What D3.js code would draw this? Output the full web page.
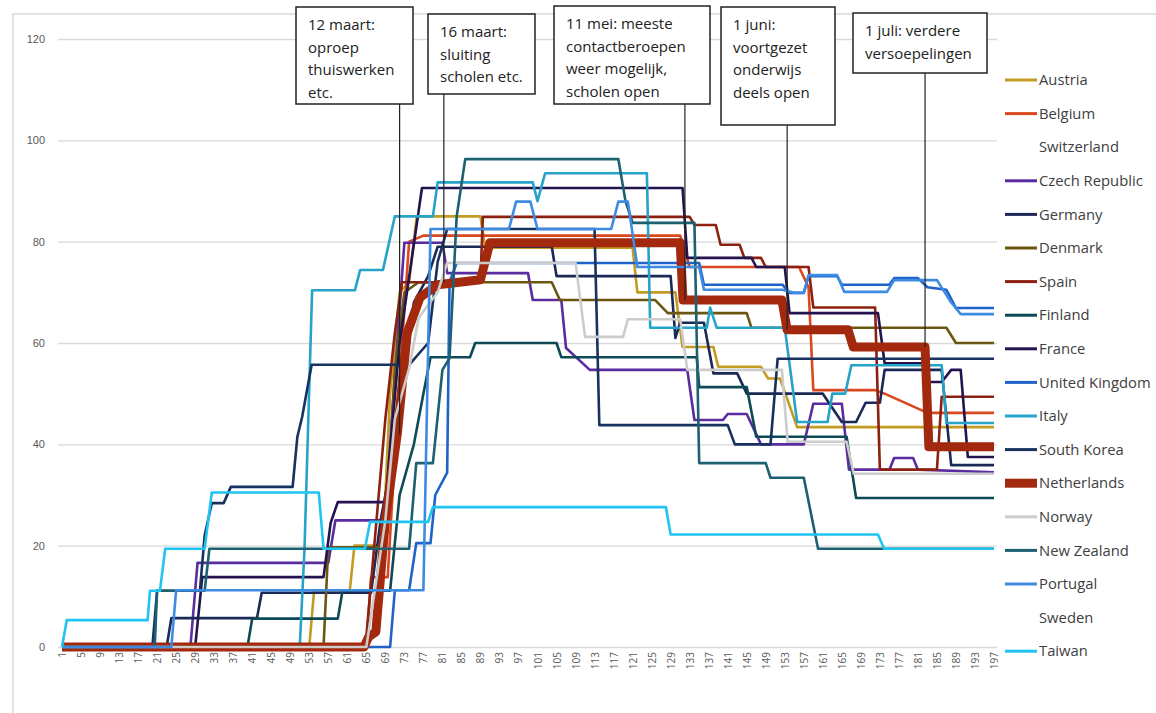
<!DOCTYPE html>
<html>
<head>
<meta charset="utf-8">
<script src="https://cdn.jsdelivr.net/npm/d3@7"></script>
<style>
  body { margin: 0; background: #fff; }
  svg { font-family: "Open Sans", "Noto Sans", sans-serif; }
</style>
</head>
<body>
<svg width="1156" height="713"></svg>
<script>
// change points per country: [day, stringency]
var austria = [[1,0],[53,0],[54,11],[61.5,11],[62.5,20],[68.5,20],[70,50],[72,70],[74,72],[75.6,85],[89,85],[90,78.8],[121,78.8],[122,70],[130,70],[131.5,59.2],[138,59.2],[139,55.3],[148,55.3],[149.5,53],[152,53],[155.6,43.4],[197,43.4]];
var belgium = [[1,0],[65,0],[66,13.8],[69.5,13.8],[71.5,46],[74,80],[77,81.2],[131,81.2],[133,75],[156,75],[158,71],[159,50.7],[172,50.7],[174,50],[183,46.2],[197,46.2]];
var switzerland = [];
var czech = [[1,0],[28,0],[29.5,16.6],[57,16.6],[58.5,25],[69,25],[70.5,47],[73,79.8],[81,79.8],[82,73.8],[99,73.8],[100,68.5],[106,68.5],[107,59],[112,54.7],[132.5,54.7],[134,44.8],[140,44.8],[141,46],[145,46],[148,40],[157,40],[159,48],[165,48],[166.5,35],[175,35],[176,37.3],[180,37.3],[181,35],[197,34.5]];
var germany = [[1,0],[23,0],[24,5.7],[42,5.7],[43,10.7],[66,10.7],[68,25],[72,45],[75,68],[78,73.2],[80,79],[104,79],[105,73.2],[129,73.2],[130,61],[131,64],[136,64],[138,54],[143,54],[145,50],[161,50],[165,44.4],[168,44.4],[170,48.2],[173,48.2],[174,54.7],[186,54.7],[188,35.9],[197,35.9]];
var denmark = [[1,0],[56,0],[57,19.7],[69,19.7],[71,55],[73,70],[76,72],[104,72],[105.7,68.5],[125.7,68.5],[128.4,65.9],[145,65.9],[146,63],[187,63],[189,60],[197,60]];
var spain = [[1,0],[64,0],[65,2],[69,45],[71,62],[72.5,72],[89,72],[89.5,84.9],[133,84.9],[134,83.3],[138.5,83.3],[139.5,79.4],[143.5,79.4],[144.5,76.8],[148,76.8],[149,75],[158,75],[159,67],[172,67],[173,35],[185,35],[186,49.4],[197,49.4]];
var finland = [[1,0],[40,0],[41,5.6],[59,5.6],[60,11.1],[70,11.1],[72,30],[75,40],[77,50],[78.5,57.2],[86.8,57.2],[87.9,60],[105,60],[106,57.2],[134.5,57.2],[135,51.3],[145,51.3],[147,41.5],[166,41.5],[168,29.4],[197,29.4]];
var france = [[1,0],[29,0],[30.5,13.8],[56,13.8],[57.5,24.5],[59,28.6],[69,28.6],[72,60],[76.7,90.6],[131.5,90.6],[132.5,76.8],[146,76.8],[147,75],[153,75],[154,65.9],[172.6,65.9],[174,56],[182,56],[183,52.3],[186,52.3],[188,54.7],[190,54.7],[191.5,37.5],[197,37.5]];
var uk = [[1,0],[70,0],[71,11.2],[74,11.2],[75.5,20.5],[78.5,20.5],[79.5,30],[82,34.4],[82.5,72],[84,75.8],[135,75.8],[136,71.5],[152.5,71.5],[154,69.9],[157,69.9],[158,73.2],[164,73.2],[165,71.5],[175,71.5],[176,72.8],[181,72.8],[183,71],[187,70.5],[189,66.9],[197,66.9]];
var italy = [[1,0],[51,0],[52,19.4],[53.6,70.4],[62.6,70.4],[63.7,74.4],[68.5,74.4],[71,85],[79,85],[80,91.7],[100,91.7],[101,88],[102.6,93.5],[124,93.5],[124.7,63],[136.6,63],[137.3,67],[138.7,63],[153,63],[155.6,44.4],[162,44.4],[163,50],[165.7,50],[167,55.6],[186,55.6],[187,44.2],[197,44.2]];
var southKorea = [[1,0],[20,0],[21,11.1],[30,11.1],[31,22],[32.5,28.4],[35,28.4],[36.5,31.6],[49.5,31.6],[50.5,41.5],[51.5,45.4],[53.5,55.7],[74,55.7],[78,60],[80,76],[82,82.5],[113,82.5],[114,43.8],[141,43.8],[142.5,40],[150,40],[151.5,56.9],[197,56.9]];
var netherlands = [[1,0],[64.5,0],[65.5,2],[67,3],[69,25],[71.5,42],[73.6,62],[76.3,69],[80,71.5],[89,72.5],[91,79.8],[131,79.8],[131.6,68.5],[152.4,68.5],[153.5,62.6],[166.3,62.6],[167.4,59.2],[182.5,59.2],[183.3,39.5],[197,39.5]];
var norway = [[1,0],[65,0],[69,25],[71,45],[74,55],[76,65],[80,70],[82,75.8],[109,75.8],[111,61.2],[119,61.2],[120,64.7],[131,64.7],[132.5,54.7],[152.4,54.7],[153.6,40.5],[166,40.5],[167.5,34.2],[197,34.2]];
var newZealand = [[1,0],[20.5,0],[21,11.1],[31,11.1],[32,19.4],[74,19.4],[75.5,36.3],[79,36.3],[81,54.7],[82.5,57],[84,85],[85.8,96.3],[118,96.3],[119.5,88],[121,83.7],[134,83.7],[135,36.3],[149,36.3],[150,33.4],[157,33.4],[160,19.4],[197,19.4]];
var portugal = [[1,0],[24,0],[25,11.2],[77,11.2],[78.5,82.5],[95,82.5],[96.5,87.9],[99.5,87.9],[101,82.5],[116.5,82.5],[118,87.9],[120,87.9],[122,75],[135,75],[136,70.5],[152.5,70.5],[155,69.9],[157,69.9],[158,73.4],[164,73.4],[165.5,70.1],[174.5,70.1],[176,72.4],[185,72.4],[188,68],[190,65.7],[197,65.7]];
var sweden = [];
var taiwan = [[1,0],[2,5.3],[19,5.3],[19.5,11.1],[21.6,11.1],[22.7,19.4],[31,19.4],[32.5,30.5],[55,30.5],[56,19.4],[64.7,19.4],[65.8,24.7],[78,24.7],[79,27.6],[128,27.6],[129,22.2],[172.6,22.2],[173.9,19.4],[197,19.4]];

var countries = ["Austria","Belgium","Switzerland","Czech Republic","Germany","Denmark","Spain","Finland","France","United Kingdom","Italy","South Korea","Netherlands","Norway","New Zealand","Portugal","Sweden","Taiwan"];
var seriesData = [austria, belgium, switzerland, czech, germany, denmark, spain, finland, france, uk, italy, southKorea, netherlands, norway, newZealand, portugal, sweden, taiwan];
var colors = ["#c49b22","#d9481f","none","#5b2c9f","#1b2956","#6b5712","#8c2010","#0d4a55","#23134f","#1f63c8","#25a3c9","#17325f","#a2290d","#cccccc","#1d6070","#3d8be2","none","#1fc4f2"];

var yTicks = [0, 20, 40, 60, 80, 100, 120];
var xTicks = d3.range(1, 198, 4);

// annotations: day, NL value where the pointer ends, text lines
var annDays = [72, 81.3, 132, 153.5, 182.5];
var annEnds = [42, 72, 68.5, 62.6, 59.2];
var annTexts = [
  ["12 maart:", "oproep", "thuiswerken", "etc."],
  ["16 maart:", "sluiting", "scholen etc."],
  ["11 mei: meeste", "contactberoepen", "weer mogelijk,", "scholen open"],
  ["1 juni:", "voortgezet", "onderwijs", "deels open"],
  ["1 juli: verdere", "versoepelingen"]
];
var annBoxes = [[296, 7, 117, 97], [428, 14, 107, 80], [554, 6, 156, 98], [721, 7, 114, 118], [853, 13, 134, 60]];

var svg = d3.select("svg");

// chart frame
svg.append("path").attr("d", "M13,713 V14 H1156").attr("fill", "none").attr("stroke", "#d9d9d9").attr("stroke-width", 1.5);

var x = d3.scaleLinear().domain([1, 197]).range([62, 994]);
var y = d3.scaleLinear().domain([0, 120]).range([647, 39]);

svg.append("g")
    .attr("transform", "translate(58,0)")
    .call(d3.axisLeft(y).tickValues(yTicks).tickSize(-939).tickPadding(13))
    .call(function (g) {
        g.select(".domain").remove();
        g.selectAll(".tick line").attr("stroke", "#d9d9d9").attr("stroke-width", 1.3);
        g.selectAll(".tick text").attr("fill", "#595959").style("font-size", "11px");
    });

svg.append("g")
    .selectAll("text")
    .data(xTicks)
    .enter().append("text")
    .attr("transform", function (d) { return "translate(" + (x(d) + 4) + ",652) rotate(-90)"; })
    .attr("text-anchor", "end")
    .attr("fill", "#595959")
    .style("font-size", "10px")
    .text(function (d) { return d; });

var line = d3.line()
    .x(function (d) { return x(d[0]); })
    .y(function (d) { return y(d[1]); });

svg.append("g")
    .selectAll("path")
    .data(seriesData)
    .enter().append("path")
    .attr("d", function (d) { return d.length ? line(d) : null; })
    .attr("fill", "none")
    .attr("stroke", function (d, i) { return colors[i]; })
    .attr("stroke-width", function (d, i) { return countries[i] === "Netherlands" ? 9 : 2.6; })
    .attr("stroke-linejoin", "round");

// annotations
var ann = svg.append("g").selectAll("g").data(annDays).enter().append("g");
ann.append("line")
    .attr("x1", function (d) { return x(d); })
    .attr("x2", function (d) { return x(d); })
    .attr("y1", function (d, i) { return annBoxes[i][1] + annBoxes[i][3]; })
    .attr("y2", function (d, i) { return y(annEnds[i]); })
    .attr("stroke", "#222").attr("stroke-width", 1.2);
ann.append("rect")
    .attr("x", function (d, i) { return annBoxes[i][0]; })
    .attr("y", function (d, i) { return annBoxes[i][1]; })
    .attr("width", function (d, i) { return annBoxes[i][2]; })
    .attr("height", function (d, i) { return annBoxes[i][3]; })
    .attr("fill", "#fff").attr("stroke", "#222").attr("stroke-width", 1.5);
ann.each(function (d, i) {
    var g = d3.select(this);
    annTexts[i].forEach(function (t, j) {
        g.append("text")
            .attr("x", annBoxes[i][0] + 12)
            .attr("y", annBoxes[i][1] + 23 + j * 22.5)
            .attr("fill", "#222")
            .style("font-size", "15px")
            .text(t);
    });
});

// legend
var leg = svg.append("g").selectAll("g").data(countries).enter().append("g")
    .attr("transform", function (d, i) { return "translate(1005," + (80 + i * 33.6) + ")"; });
leg.append("line")
    .attr("x1", 0).attr("x2", 32)
    .attr("stroke", function (d, i) { return colors[i]; })
    .attr("stroke-width", function (d) { return d === "Netherlands" ? 9 : 3; });
leg.append("text")
    .attr("x", 34).attr("dy", "0.35em")
    .attr("fill", "#404040")
    .style("font-size", "14.8px")
    .text(function (d) { return d; });
</script>
</body>
</html>
